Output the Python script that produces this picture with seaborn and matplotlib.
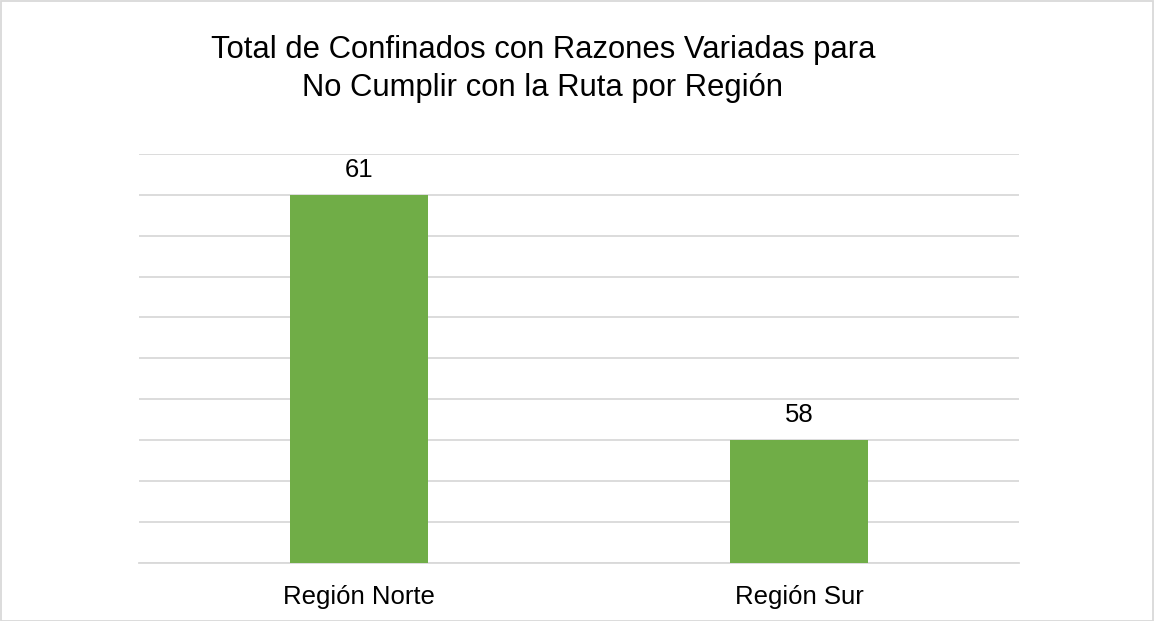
import matplotlib
matplotlib.use("Agg")
import matplotlib.pyplot as plt
import seaborn as sns
import pandas as pd
from matplotlib.patches import Rectangle

categories = ["Región Norte", "Región Sur"]
values = [61, 58]
title = "Total de Confinados con Razones Variadas para\nNo Cumplir con la Ruta por Región"

sns.set_theme(style="white")
plt.rcParams['font.family'] = ['Liberation Sans', 'DejaVu Sans']

df = pd.DataFrame({"region": categories, "total": values})

fig = plt.figure(figsize=(11.54, 6.21), dpi=100)
ax = fig.add_axes([139/1154, 1 - 562.5/621, 880/1154, (562.5 - 154)/621])

sns.barplot(data=df, x="region", y="total", color="#70AD47", saturation=1,
            width=0.314, ax=ax, zorder=3, linewidth=0)

ax.set_ylim(56.5, 61.5)
ax.set_yticks([56.5 + 0.5 * i for i in range(11)])
ax.yaxis.grid(True, color="#D9D9D9", linewidth=1.3, zorder=0)
ax.tick_params(axis="y", left=False, labelleft=False)
ax.tick_params(axis="x", bottom=False, labelsize=18.5, colors="#000000", pad=10)
for s in ["top", "right", "left"]:
    ax.spines[s].set_visible(False)
ax.spines["bottom"].set_color("#D9D9D9")
ax.spines["bottom"].set_linewidth(1.3)
ax.set_xlabel("")
ax.set_ylabel("")

for p, v in zip(ax.patches, values):
    ax.annotate(str(v), (p.get_x() + p.get_width() / 2, p.get_height()),
                xytext=(0, 9), textcoords="offset points",
                ha="center", va="bottom", fontsize=18.5, color="#000000")

fig.text(543/1154, 1 - 69/621, title, ha="center", va="center",
         fontsize=22.3, color="#000000", linespacing=1.32)

fig.patches.append(Rectangle((0.5/1154, 0.5/621), 1 - 1.5/1154, 1 - 1.5/621,
                             transform=fig.transFigure, fill=False,
                             edgecolor="#D9D9D9", linewidth=1.3))

fig.savefig("out.png", dpi=100)
